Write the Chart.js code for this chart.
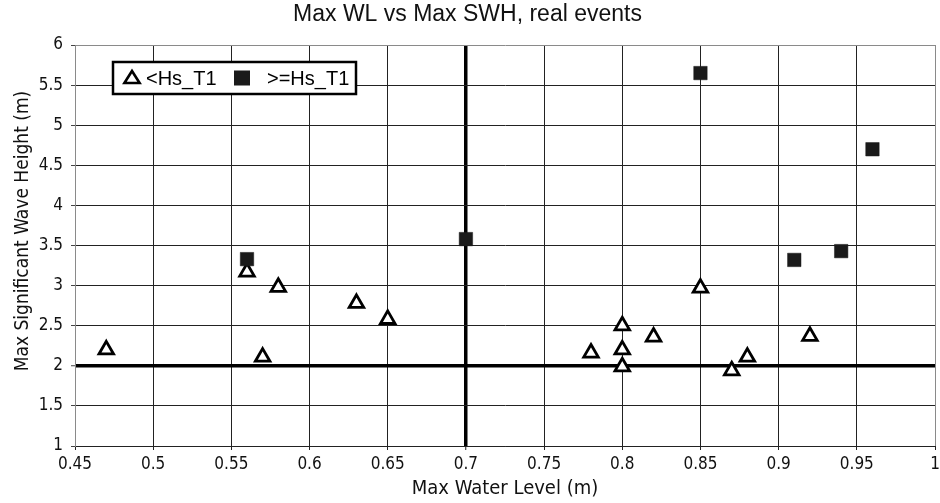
<!DOCTYPE html>
<html>
<head>
<meta charset="utf-8">
<script src="https://cdn.jsdelivr.net/npm/chart.js@4.4.1/dist/chart.umd.min.js"></script>
<style>
  html, body { margin: 0; padding: 0; background: #fff; }
  #wrap { width: 940px; height: 503px; }
</style>
</head>
<body>
<div id="wrap"><canvas id="c" width="940" height="503"></canvas></div>
<script>
// ---- data ----
const lowLabel = '<Hs_T1';
const lowX = [0.47, 0.56, 0.57, 0.58, 0.63, 0.65, 0.78, 0.80, 0.80, 0.80, 0.82, 0.85, 0.87, 0.88, 0.92];
const lowY = [2.20, 3.17, 2.11, 2.98, 2.78, 2.58, 2.16, 2.50, 2.20, 1.99, 2.36, 2.97, 1.94, 2.11, 2.37];
const highLabel = '>=Hs_T1';
const highX = [0.56, 0.70, 0.85, 0.91, 0.94, 0.96];
const highY = [3.33, 3.58, 5.65, 3.32, 3.43, 4.70];
const xTitle = 'Max Water Level (m)';
const yTitle = 'Max Significant Wave Height (m)';
const chartTitle = 'Max WL vs Max SWH, real events';
const xRef = 0.7;   // thick reference line
const yRef = 2;     // thick reference line

const toPts = (xs, ys) => xs.map((x, i) => ({x: x, y: ys[i]}));
const TICK_FONT = "'DejaVu Sans Condensed', 'DejaVu Sans', sans-serif";
const near = (a, b) => Math.abs(a - b) < 1e-6;

// keep the plot area's right edge 5px from the canvas edge (as in the reference)
const areaPlugin = {
  id: 'fixArea',
  afterLayout(chart) {
    const a = chart.chartArea;
    const xs = chart.scales.x;
    const target = chart.width - 5;
    a.right = target;
    a.width = a.right - a.left;
    xs.right = target;
    xs.width = target - xs.left;
    xs.configure();
  }
};

const legendPlugin = {
  id: 'insideLegend',
  afterDraw(chart) {
    const ctx = chart.ctx;
    const x0 = 113, y0 = 62, w = 243, h = 32;
    ctx.save();
    ctx.fillStyle = '#fff';
    ctx.fillRect(x0, y0, w, h);
    ctx.strokeStyle = '#000';
    ctx.lineWidth = 2.5;
    ctx.strokeRect(x0, y0, w, h);
    const cy = y0 + h / 2;
    // triangle symbol
    ctx.beginPath();
    const tx = 132, r = 8;
    ctx.moveTo(tx, cy - r + 1);
    ctx.lineTo(tx + r * 0.95, cy + r * 0.62);
    ctx.lineTo(tx - r * 0.95, cy + r * 0.62);
    ctx.closePath();
    ctx.fillStyle = '#fff';
    ctx.fill();
    ctx.lineWidth = 2.6;
    ctx.strokeStyle = '#000';
    ctx.stroke();
    // square symbol
    ctx.fillStyle = '#1a1a1a';
    ctx.fillRect(234, cy - 7.5, 16, 15);
    // labels
    ctx.fillStyle = '#000';
    ctx.font = "20px 'Liberation Sans', Arial, sans-serif";
    ctx.textBaseline = 'middle';
    ctx.textAlign = 'left';
    const ds = chart.data.datasets;
    ctx.fillText(ds[0].label, 146, cy + 1);
    ctx.fillText(ds[1].label, 267, cy + 1);
    // y axis title
    ctx.translate(23, 231);
    ctx.rotate(-Math.PI / 2);
    ctx.textAlign = 'center';
    ctx.fillStyle = '#111';
    ctx.font = "19px " + TICK_FONT;
    ctx.fillText(yTitle, 0, 0);
    ctx.restore();
  }
};

new Chart(document.getElementById('c'), {
  type: 'scatter',
  data: {
    datasets: [
      {
        label: lowLabel,
        data: toPts(lowX, lowY),
        pointStyle: 'triangle',
        pointRadius: 8.4,
        pointHoverRadius: 8.4,
        pointBackgroundColor: '#fff',
        pointBorderColor: '#000',
        pointBorderWidth: 2.8,
        order: 1
      },
      {
        label: highLabel,
        data: toPts(highX, highY),
        pointStyle: 'rect',
        pointRadius: 9.5,
        pointHoverRadius: 9.5,
        pointBackgroundColor: '#1a1a1a',
        pointBorderColor: '#1a1a1a',
        pointBorderWidth: 0.5,
        order: 0
      }
    ]
  },
  options: {
    responsive: false,
    animation: false,
    events: [],
    layout: { padding: { left: 0, right: 5, top: 0, bottom: 0 } },
    plugins: {
      legend: { display: false },
      tooltip: { enabled: false },
      title: {
        display: true,
        text: chartTitle,
        color: '#111',
        font: { family: "'Liberation Sans', Arial, sans-serif", size: 23, weight: 'normal' },
        padding: { top: 1, bottom: 16.4 }
      }
    },
    scales: {
      x: {
        type: 'linear',
        min: 0.45, max: 1,
        afterFit: s => { s.height = 57; },
        ticks: {
          stepSize: 0.05,
          color: '#111',
          font: { family: TICK_FONT, size: 17 },
          padding: 4,
          maxRotation: 0,
          callback: v => String(Math.round(v * 100) / 100)
        },
        grid: {
          color: ctx => near(ctx.tick.value, 1) ? '#8a8a8a' : (near(ctx.tick.value, xRef) ? '#000' : '#222'),
          lineWidth: ctx => near(ctx.tick.value, xRef) ? 3.5 : 1,
          tickColor: '#222',
          tickWidth: 1,
          tickLength: 4
        },
        border: { color: '#222', width: 1 },
        title: {
          display: true,
          text: xTitle,
          color: '#111',
          font: { family: TICK_FONT, size: 20 },
          padding: { top: 0, bottom: 2 }
        }
      },
      y: {
        type: 'linear',
        min: 1, max: 6,
        afterFit: s => { s.width = 75; },
        ticks: {
          stepSize: 0.5,
          color: '#111',
          font: { family: TICK_FONT, size: 17 },
          padding: 8,
          callback: v => String(Math.round(v * 10) / 10)
        },
        grid: {
          color: ctx => near(ctx.tick.value, 6) ? '#8a8a8a' : (near(ctx.tick.value, yRef) ? '#000' : '#222'),
          lineWidth: ctx => near(ctx.tick.value, yRef) ? 3.5 : 1,
          tickColor: '#444',
          tickWidth: 1,
          tickLength: 4
        },
        border: { color: '#8a8a8a', width: 1 },
        title: { display: false }
      }
    }
  },
  plugins: [areaPlugin, legendPlugin]
});
</script>
</body>
</html>
